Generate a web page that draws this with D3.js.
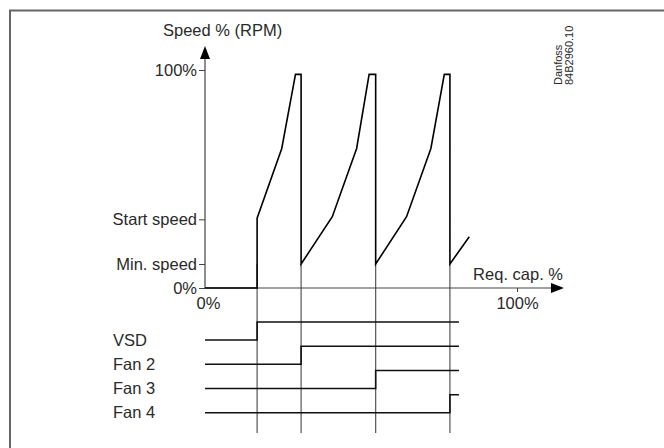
<!DOCTYPE html>
<html>
<head>
<meta charset="utf-8">
<script src="https://cdn.jsdelivr.net/npm/d3@7/dist/d3.min.js"></script>
<style>
  html, body { margin: 0; padding: 0; background: #fff; }
  svg { display: block; font-family: "Liberation Sans", Arial, sans-serif; }
</style>
</head>
<body>
<svg id="chart" width="664" height="448"></svg>
<script>
// ---- data ----
const capPoints   = [0, 16.7, 16.7, 24.6, 29.0, 30.8, 30.8, 40.8, 48.6, 52.6, 54.7, 54.7, 64.6, 72.4, 76.7, 78.5, 78.5, 84.7];
const speedPoints = [0, 0,    32,   64,   98,   98,   11,   32.7, 64,   98,   98,   11,   32.7, 64,   98,   98,   11,   23.5];
const yTickValues = [0, 11, 31.5, 100];
const yTickLabels = ["0%", "Min. speed", "Start speed", "100%"];
const xTickValues = [0, 100];
const xTickLabels = ["0%", "100%"];
const stageNames  = ["VSD", "Fan 2", "Fan 3", "Fan 4"];
const stageSwitch = [16.7, 30.8, 54.7, 78.5];   // req. cap. % where each unit starts
const stageEnd    = 81.4;
const minSpeed    = 11;

const FS = 16.5;
const TXT = "#2a2a2a";
const svg = d3.select("#chart");

// frame (top + left edges visible)
svg.append("line").attr("x1", 9).attr("x2", 664).attr("y1", 10.5).attr("y2", 10.5)
  .attr("stroke", "#666").attr("stroke-width", 2);
svg.append("line").attr("x1", 10).attr("x2", 10).attr("y1", 10).attr("y2", 448)
  .attr("stroke", "#666").attr("stroke-width", 2);

const x = d3.scaleLinear().domain([0, 100]).range([205, 517]);
const y = d3.scaleLinear().domain([0, 100]).range([288, 70]);
const rows = d3.scalePoint().domain(stageNames).range([340, 412.7]);
const stepH = 18;
const bottomY = 433;

// vertical guide lines
svg.append("g").selectAll("line").data(stageSwitch).join("line")
  .attr("x1", d => x(d)).attr("x2", d => x(d))
  .attr("y1", y(minSpeed)).attr("y2", bottomY)
  .attr("stroke", "#555").attr("stroke-width", 1.2);

// y axis line with arrow
svg.append("line").attr("x1", x(0)).attr("x2", x(0)).attr("y1", y(0)).attr("y2", 58)
  .attr("stroke", "#444").attr("stroke-width", 1.2);
svg.append("path").attr("d", `M${x(0)},46 L${x(0)-5},59 L${x(0)+5},59 Z`).attr("fill", "#000");

// x axis line with arrow
svg.append("line").attr("x1", x(0)).attr("x2", 553).attr("y1", y(0)).attr("y2", y(0))
  .attr("stroke", "#444").attr("stroke-width", 1.2);
svg.append("path").attr("d", `M564,${y(0)} L551,${y(0)-5} L551,${y(0)+5} Z`).attr("fill", "#000");

// y axis ticks
const yAxis = d3.axisLeft(y).tickValues(yTickValues).tickSize(6).tickPadding(2)
  .tickFormat((d, i) => yTickLabels[i]);
const gy = svg.append("g").attr("transform", `translate(${x(0)},0)`).call(yAxis);
gy.select(".domain").remove();
gy.selectAll(".tick line").attr("stroke", "#444");
gy.selectAll(".tick text").attr("font-size", FS).attr("fill", TXT)
  .attr("font-family", "Liberation Sans, Arial, sans-serif");

// x axis ticks
const xAxis = d3.axisBottom(x).tickValues(xTickValues).tickSize(4).tickPadding(5)
  .tickFormat((d, i) => xTickLabels[i]);
const gx = svg.append("g").attr("transform", `translate(0,${y(0)})`).call(xAxis);
gx.select(".domain").remove();
gx.selectAll(".tick line").attr("stroke", "#444");
gx.selectAll(".tick text").attr("font-size", FS).attr("fill", TXT)
  .attr("font-family", "Liberation Sans, Arial, sans-serif");
gx.selectAll(".tick").filter(d => d === 0).select("line").remove();
gx.selectAll(".tick").filter(d => d === 0).select("text").attr("dx", 3);

// axis titles
svg.append("text").attr("x", 163).attr("y", 35.5).attr("font-size", FS).attr("fill", TXT)
  .text("Speed % (RPM)");
svg.append("text").attr("x", 563).attr("y", 280).attr("text-anchor", "end")
  .attr("font-size", FS).attr("fill", TXT).text("Req. cap. %");

// speed curve
const line = d3.line().x(d => x(d[0])).y(d => y(d[1]));
svg.append("path").datum(d3.zip(capPoints, speedPoints)).attr("d", line)
  .attr("fill", "none").attr("stroke", "#000").attr("stroke-width", 1.6)
  .attr("stroke-linejoin", "miter");

// stage on/off lines
stageNames.forEach((name, i) => {
  const base = rows(name);
  const pts = [[0, base], [stageSwitch[i], base], [stageSwitch[i], base - stepH], [stageEnd, base - stepH]];
  svg.append("path")
    .attr("d", d3.line().x(d => x(d[0])).y(d => d[1])(pts))
    .attr("fill", "none").attr("stroke", "#111").attr("stroke-width", 1.6);
  svg.append("text").attr("x", 113).attr("y", base).attr("dy", "0.35em")
    .attr("font-size", FS).attr("fill", TXT).text(name);
});

// Danfoss reference
const ref = svg.append("g").attr("font-size", 11).attr("fill", TXT);
ref.append("text").attr("transform", "translate(561.5,85) rotate(-90)").text("Danfoss");
ref.append("text").attr("transform", "translate(572.5,85) rotate(-90)").text("84B2960.10");
</script>
</body>
</html>
